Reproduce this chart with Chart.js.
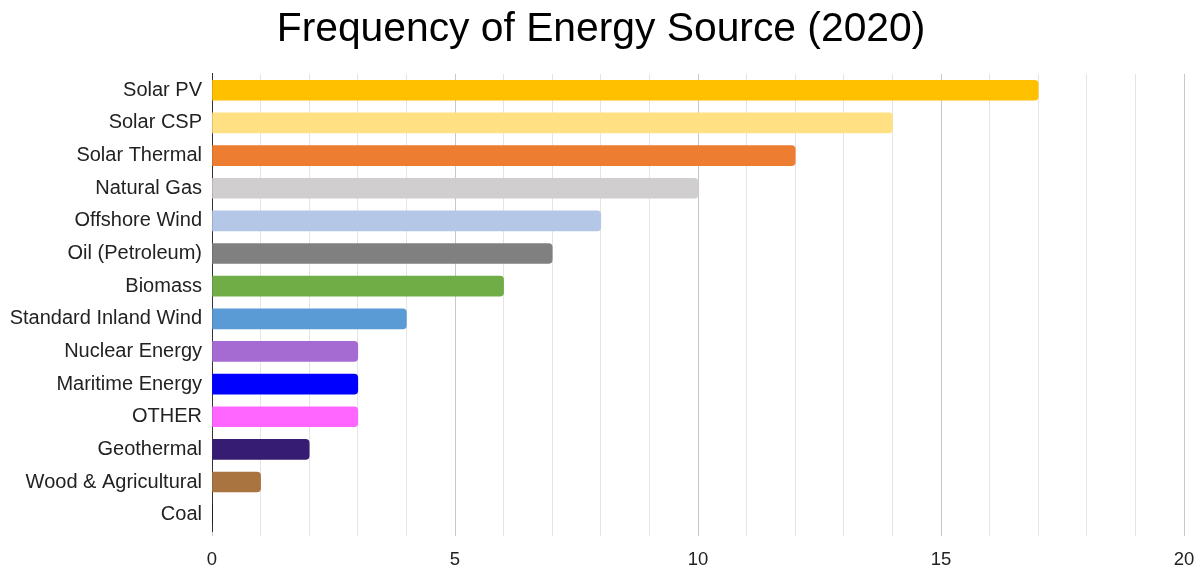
<!DOCTYPE html>
<html>
<head>
<meta charset="utf-8">
<script src="https://cdn.jsdelivr.net/npm/chart.js@4"></script>
<style>
  html, body { margin: 0; padding: 0; background: #fff; }
  #wrap { width: 1202px; height: 569px; }
</style>
</head>
<body>
<div id="wrap"><canvas id="chart" width="1202" height="569"></canvas></div>
<script>
// energy sources and how often each shows up
const categories = [
    'Solar PV', 'Solar CSP', 'Solar Thermal', 'Natural Gas', 'Offshore Wind',
    'Oil (Petroleum)', 'Biomass', 'Standard Inland Wind', 'Nuclear Energy',
    'Maritime Energy', 'OTHER', 'Geothermal', 'Wood & Agricultural', 'Coal'
];
const frequency = [17, 14, 12, 10, 8, 7, 6, 4, 3, 3, 3, 2, 1, 0];
const barColors = [
    '#FFC000', '#FFE083', '#ED7D31', '#D0CECE', '#B4C7E7',
    '#808080', '#70AD47', '#5B9BD5', '#A66BD3',
    '#0000FF', '#FF66FF', '#361D73', '#A9743F', '#000000'
];
const xTickLabels = [0, 5, 10, 15, 20];

const fontFamily = '"Liberation Sans", Arial, sans-serif';

new Chart(document.getElementById('chart').getContext('2d'), {
    type: 'bar',
    data: {
        labels: categories,
        datasets: [{
            label: 'Frequency',
            data: frequency,
            backgroundColor: barColors,
            borderWidth: 0,
            borderRadius: 4,
            borderSkipped: 'start',
            barThickness: 20
        }]
    },
    options: {
        indexAxis: 'y',
        responsive: false,
        animation: false,
        layout: { padding: 0 },
        plugins: {
            legend: { display: false },
            tooltip: { enabled: false },
            title: {
                display: true,
                text: 'Frequency of Energy Source (2020)',
                color: '#000',
                font: { family: fontFamily, size: 40.8, weight: 'normal', lineHeight: 1.2 },
                padding: { top: 5, bottom: 20 }
            }
        },
        scales: {
            x: {
                min: 0,
                max: 20,
                ticks: {
                    stepSize: 1,
                    autoSkip: false,
                    maxRotation: 0,
                    color: '#222',
                    font: { family: fontFamily, size: 18.5 },
                    padding: 13,
                    callback: v => xTickLabels.includes(v) ? String(v) : ''
                },
                grid: {
                    color: ctx => (ctx.tick && ctx.tick.value % 5 === 0) ? '#c8c8c8' : '#e4e4e4',
                    lineWidth: 1,
                    tickLength: 5
                },
                border: { display: false },
                afterFit: scale => {
                    scale.height = 38;
                    scale.paddingLeft = 0;
                    scale.paddingRight = 18;
                }
            },
            y: {
                ticks: {
                    color: '#222',
                    font: { family: fontFamily, size: 20 },
                    padding: 10
                },
                grid: { display: false, drawTicks: false },
                border: { display: true, color: '#333', width: 1 },
                afterFit: scale => { scale.width = 212; }
            }
        }
    }
});
</script>
</body>
</html>
